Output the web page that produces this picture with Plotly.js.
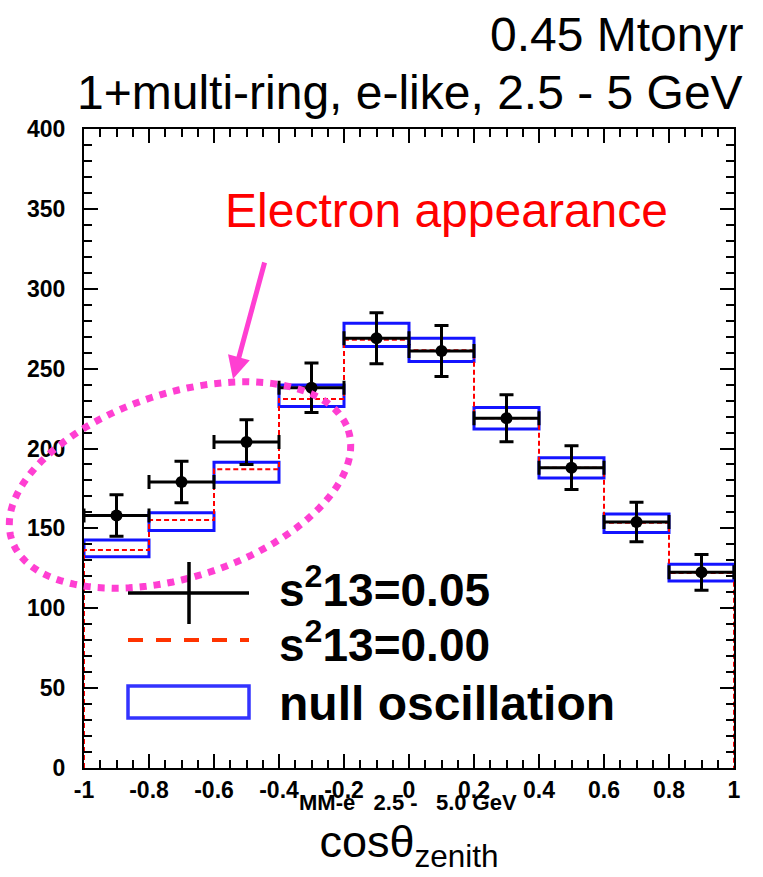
<!DOCTYPE html>
<html>
<head>
<meta charset="utf-8">
<script src="https://cdn.plot.ly/plotly-3.0.1.min.js"></script>
<style>
html,body{margin:0;padding:0;background:#fff;}
#chart{width:763px;height:877px;}
</style>
</head>
<body>
<div id="chart"></div>
<script>
// ---- data ----
var binCenters = [-0.9, -0.7, -0.5, -0.3, -0.1, 0.1, 0.3, 0.5, 0.7, 0.9];
var binEdges = [-1, -0.8, -0.6, -0.4, -0.2, 0, 0.2, 0.4, 0.6, 0.8, 1];
var dataVals = [158, 179, 204, 238, 269, 261, 219, 188, 154, 122.5];
var dataErr = [13, 13, 14, 15.5, 16, 16, 14.7, 13.7, 12.4, 11.2];
var nullVals = [137.5, 154.2, 185.1, 233, 271.1, 261.7, 218.9, 187.9, 153.2, 122.3];
var nullErr = [5.2, 5.6, 6.3, 6.7, 7.3, 7.3, 6.7, 6.3, 5.8, 5.2];
var zeroVals = [136.5, 155.2, 187, 231, 268, 261.5, 219, 188, 153.5, 122];
var halfBin = 0.1;
var xTickVals = [-1, -0.8, -0.6, -0.4, -0.2, 0, 0.2, 0.4, 0.6, 0.8, 1];
var xTickText = ['-1', '-0.8', '-0.6', '-0.4', '-0.2', '0', '0.2', '0.4', '0.6', '0.8', '1'];
var yTickVals = [0, 50, 100, 150, 200, 250, 300, 350, 400];
var yTickText = ['0', '50', '100', '150', '200', '250', '300', '350', '400'];
var legendLabels = ['s<sup>2</sup>13=0.05', 's<sup>2</sup>13=0.00', 'null oscillation'];
var titleLines = ['0.45 Mtonyr', '1+multi-ring, e-like, 2.5 - 5 GeV'];
var subLabel = 'MM-e   2.5 -   5.0 GeV';
var noteText = 'Electron appearance';

// ---- layout geometry (pixels) ----
var W = 763, H = 877;
var mL = 84, mR = 29, mT = 129, mB = 109;
var pw = W - mL - mR, ph = H - mT - mB;
function px(x){ return (x - mL) / pw; }
function py(y){ return (H - mB - y) / ph; }

var FONT = 'Liberation Sans, Arial, sans-serif';
var MAG = '#ff3fd2';

// step line for s13 = 0 (vh shape)
var stepX = [binEdges[0]].concat(binEdges.slice(1)).concat([binEdges[binEdges.length-1]]);
var stepY = [0].concat(zeroVals).concat([0]);

var traces = [
  {
    type: 'bar', x: binCenters,
    y: nullErr.map(function(e){ return 2*e; }),
    base: nullVals.map(function(v,i){ return v - nullErr[i]; }),
    width: 2*halfBin,
    marker: {color: 'rgba(0,0,0,0)', line: {color: '#1414ff', width: 3}},
    showlegend: false, hoverinfo: 'skip'
  },
  {
    type: 'scatter', mode: 'lines', x: stepX, y: stepY,
    line: {shape: 'vh', color: '#ff0000', width: 2, dash: '5px,3px'},
    showlegend: false, hoverinfo: 'skip', cliponaxis: false
  },
  {
    type: 'scatter', mode: 'markers', x: binCenters, y: dataVals,
    marker: {color: '#000', size: 12, symbol: 'circle'},
    error_y: {type: 'data', array: dataErr, visible: true, color: '#000', thickness: 3, width: 7},
    error_x: {type: 'constant', value: halfBin, visible: true, color: '#000', thickness: 3, width: 7},
    showlegend: false
  }
];

// dotted ellipse decoration (pixel geometry -> paper)
var ecx = 180, ecy = 485, ea = 177, eb = 92, eth = 18 * Math.PI / 180;
var ePath = '';
for (var k = 0; k <= 120; k++) {
  var t = 2 * Math.PI * k / 120;
  var ux = ea * Math.cos(t), uy = eb * Math.sin(t);
  var X = ecx + ux * Math.cos(eth) + uy * Math.sin(eth);
  var Y = ecy - ux * Math.sin(eth) + uy * Math.cos(eth);
  ePath += (k === 0 ? 'M' : 'L') + px(X).toFixed(5) + ',' + py(Y).toFixed(5);
}
ePath += 'Z';

var shapes = [
  {type: 'path', xref: 'paper', yref: 'paper', path: ePath,
   line: {color: MAG, width: 7, dash: '7px,7px'}},
  // legend symbols
  {type: 'line', xref: 'paper', yref: 'paper', x0: px(128), x1: px(249), y0: py(593), y1: py(593),
   line: {color: '#000', width: 3.5}},
  {type: 'line', xref: 'paper', yref: 'paper', x0: px(189), x1: px(189), y0: py(562), y1: py(624),
   line: {color: '#000', width: 3.5}},
  {type: 'line', xref: 'paper', yref: 'paper', x0: px(128), x1: px(249), y0: py(640), y1: py(640),
   line: {color: '#ff3300', width: 4, dash: '15px,13px'}},
  {type: 'rect', xref: 'paper', yref: 'paper', x0: px(128), x1: px(249), y0: py(686), y1: py(718),
   line: {color: '#3333ff', width: 3.5}}
];

var annotations = [
  {xref: 'paper', yref: 'paper', x: px(745), y: py(34), xanchor: 'right', yanchor: 'middle',
   text: titleLines[0], showarrow: false, font: {family: FONT, size: 48, color: '#000'}},
  {xref: 'paper', yref: 'paper', x: px(745), y: py(92), xanchor: 'right', yanchor: 'middle',
   text: titleLines[1], showarrow: false, font: {family: FONT, size: 48, color: '#000'}},
  {xref: 'paper', yref: 'paper', x: px(223), y: py(210), xanchor: 'left', yanchor: 'middle',
   text: noteText, showarrow: false, font: {family: FONT, size: 48, color: '#ff0000'}},
  {xref: 'paper', yref: 'paper', x: px(233), y: py(379), ax: 32, ay: -118,
   text: '', showarrow: true, arrowhead: 2, arrowsize: 0.9, arrowwidth: 5, arrowcolor: MAG},
  {xref: 'paper', yref: 'paper', x: px(277), y: py(587), xanchor: 'left', yanchor: 'middle',
   text: legendLabels[0], showarrow: false, font: {family: FONT, size: 46, weight: 'bold', color: '#000'}},
  {xref: 'paper', yref: 'paper', x: px(277), y: py(642), xanchor: 'left', yanchor: 'middle',
   text: legendLabels[1], showarrow: false, font: {family: FONT, size: 46, weight: 'bold', color: '#000'}},
  {xref: 'paper', yref: 'paper', x: px(277), y: py(703), xanchor: 'left', yanchor: 'middle',
   text: legendLabels[2], showarrow: false, font: {family: FONT, size: 48, weight: 'bold', color: '#000'}},
  {xref: 'paper', yref: 'paper', x: px(408), y: py(802), xanchor: 'center', yanchor: 'middle',
   text: subLabel.replace(/ /g, '&nbsp;'), showarrow: false, font: {family: FONT, size: 22, weight: 'bold', color: '#000'}}
];

var axisCommon = {
  showgrid: false, zeroline: false, showline: true, linecolor: '#000', linewidth: 2,
  mirror: 'allticks', ticks: 'inside', ticklen: 14, tickwidth: 2, tickcolor: '#000',
  tickmode: 'array', fixedrange: true,
  tickfont: {family: FONT, size: 23, weight: 'bold', color: '#000'}
};

var layout = {
  width: W, height: H,
  margin: {l: mL, r: mR, t: mT, b: mB},
  paper_bgcolor: '#fff', plot_bgcolor: '#fff',
  showlegend: false,
  bargap: 0,
  xaxis: Object.assign({}, axisCommon, {
    range: [-1, 1], tickvals: xTickVals, ticktext: xTickText,
    minor: {tick0: -1, dtick: 0.05, ticks: 'inside', ticklen: 8, tickwidth: 2, tickcolor: '#000'},
    title: {text: 'cosθ<sub>zenith</sub>', font: {family: FONT, size: 45, color: '#000'}, standoff: 24}
  }),
  yaxis: Object.assign({}, axisCommon, {
    range: [0, 400], tickvals: yTickVals, ticktext: yTickText,
    minor: {tick0: 0, dtick: 10, ticks: 'inside', ticklen: 8, tickwidth: 2, tickcolor: '#000'},
    ticklabelstandoff: 12
  }),
  shapes: shapes,
  annotations: annotations
};

Plotly.newPlot('chart', traces, layout, {displayModeBar: false, staticPlot: true});
</script>
</body>
</html>
